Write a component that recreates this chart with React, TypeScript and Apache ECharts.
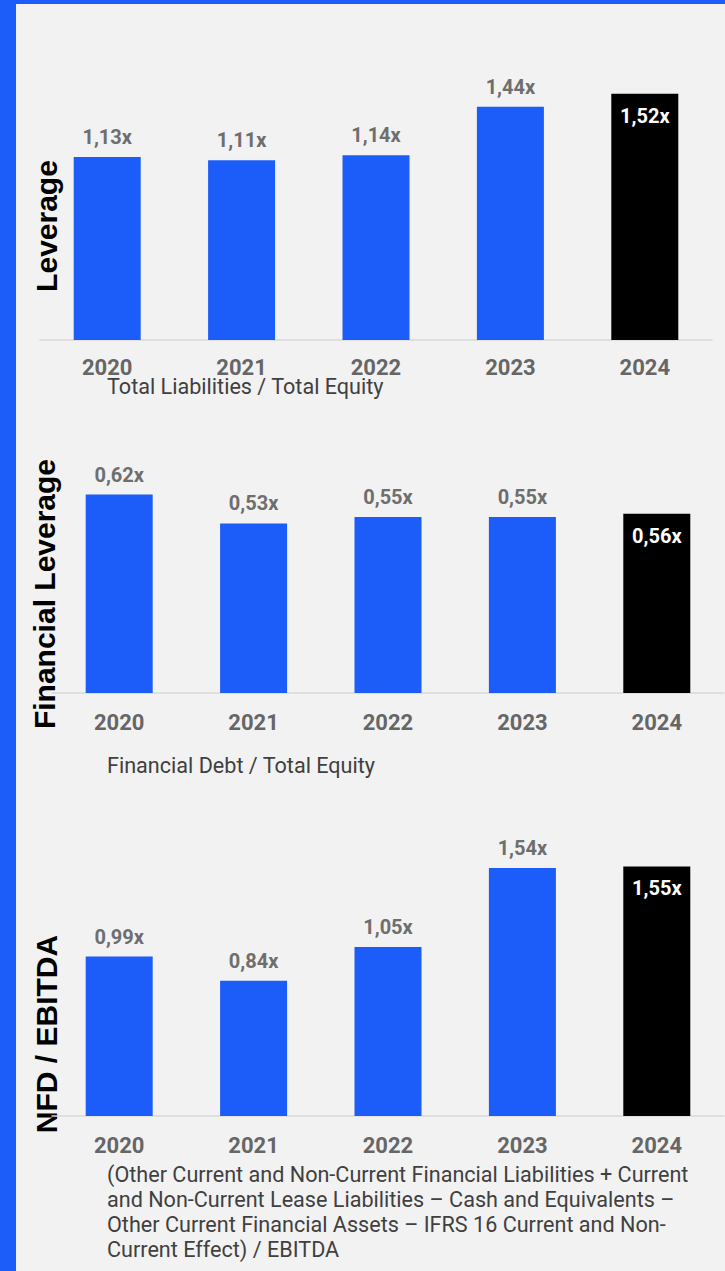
import React, { useEffect, useRef } from "react";
import * as echarts from "echarts";

const years = ["2020", "2021", "2022", "2023", "2024"];
const leverage = [1.13, 1.11, 1.14, 1.44, 1.52];
const financialLeverage = [0.62, 0.53, 0.55, 0.55, 0.56];
const nfdEbitda = [0.99, 0.84, 1.05, 1.54, 1.55];
const highlightYear = "2024";

const chartTitles = ["Leverage", "Financial Leverage", "NFD / EBITDA"];
const subtitle1 = "Total Liabilities / Total Equity";
const subtitle2 = "Financial Debt / Total Equity";
const subtitle3 = [
  "(Other Current and Non-Current Financial Liabilities + Current",
  "and Non-Current Lease Liabilities – Cash and Equivalents –",
  "Other Current Financial Assets – IFRS 16 Current and Non-",
  "Current Effect) / EBITDA",
];

const BLUE = "#1c5cf8";
const BLACK = "#000000";
const FONT = "Roboto";

function fmt(v: number) {
  return v.toFixed(2).replace(".", ",") + "x";
}

export default function App() {
  const ref = useRef<HTMLDivElement>(null);
  useEffect(() => {
    if (!ref.current) return;
    const chart = echarts.init(ref.current, undefined, { renderer: "svg" });

    const grids = [
      { left: 40, right: 13, top: 50, height: 290 },
      { left: 52, right: 1, top: 443, height: 250 },
      { left: 52, right: 1, top: 816, height: 300 },
    ];
    const maxes = [290 / 162, 250 / 320, 300 / 161];
    const margins = [16, 18, 18];
    const datasets = [leverage, financialLeverage, nfdEbitda];

    const makeData = (vals: number[]) =>
      vals.map((v, i) => {
        const hl = years[i] === highlightYear;
        return {
          value: v,
          itemStyle: { color: hl ? BLACK : BLUE },
          label: hl
            ? { position: "insideTop", distance: 12, color: "#ffffff" }
            : { position: "top", distance: 10, color: "#6e6e6e" },
        };
      });

    const option: any = {
      animation: false,
      backgroundColor: "#f2f2f2",
      grid: grids,
      xAxis: grids.map((_, i) => ({
        type: "category",
        gridIndex: i,
        data: years,
        axisLine: { lineStyle: { color: "#d9d9d9", width: 1.5 } },
        axisTick: { show: false },
        axisLabel: {
          color: "#666666",
          fontSize: 22,
          fontWeight: "bold",
          fontFamily: FONT,
          margin: margins[i],
        },
      })),
      yAxis: grids.map((_, i) => ({
        type: "value",
        gridIndex: i,
        min: 0,
        max: maxes[i],
        show: false,
      })),
      series: datasets.map((vals, i) => ({
        type: "bar",
        xAxisIndex: i,
        yAxisIndex: i,
        barWidth: 67,
        data: makeData(vals),
        label: {
          show: true,
          fontSize: 20,
          fontWeight: "bold",
          fontFamily: FONT,
          formatter: (p: any) => fmt(p.value),
        },
      })),
      graphic: [
        { type: "rect", shape: { x: 0, y: 0, width: 16, height: 1271 }, style: { fill: BLUE }, silent: true },
        { type: "rect", shape: { x: 0, y: 0, width: 725, height: 4 }, style: { fill: BLUE }, silent: true },
        ...[
          { x: 46, y: 226 },
          { x: 44, y: 594 },
          { x: 46, y: 1034 },
        ].map((p, i) => ({
          type: "text",
          x: p.x,
          y: p.y,
          rotation: Math.PI / 2,
          style: {
            text: chartTitles[i],
            fill: "#000000",
            font: "bold 30px 'Liberation Sans', Arial, sans-serif",
            align: "center",
            verticalAlign: "middle",
          },
        })),
        {
          type: "text",
          x: 107,
          y: 386.5,
          style: {
            text: subtitle1,
            fill: "#404040",
            font: `21.6px ${FONT}`,
            align: "left",
            verticalAlign: "middle",
          },
        },
        {
          type: "text",
          x: 107,
          y: 765,
          style: {
            text: subtitle2,
            fill: "#404040",
            font: `21.6px ${FONT}`,
            align: "left",
            verticalAlign: "middle",
          },
        },
        {
          type: "text",
          x: 107,
          y: 1162,
          style: {
            text: subtitle3.join("\n"),
            fill: "#404040",
            font: `21.6px ${FONT}`,
            lineHeight: 25,
            align: "left",
            verticalAlign: "top",
          },
        },
      ],
    };
    chart.setOption(option);
    return () => chart.dispose();
  }, []);
  return (
    <div
      ref={ref}
      style={{ position: "absolute", left: 0, top: 0, width: 725, height: 1271 }}
    />
  );
}
